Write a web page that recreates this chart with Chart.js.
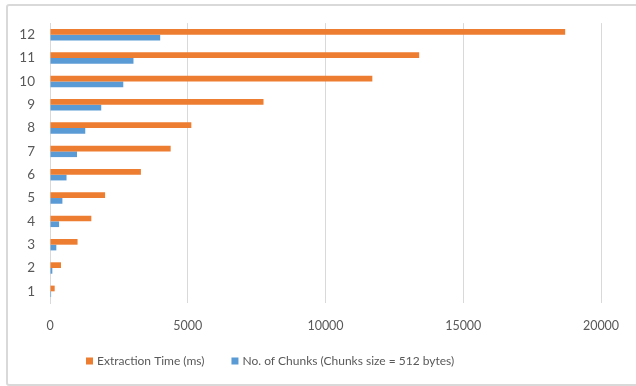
<!DOCTYPE html>
<html>
<head>
<meta charset="utf-8">
<script src="https://cdn.jsdelivr.net/npm/chart.js@4/dist/chart.umd.min.js"></script>
<style>
  html, body { margin: 0; padding: 0; background: #ffffff; overflow: hidden; }
  #wrap { position: relative; width: 636px; height: 386px; overflow: hidden; }
  #frame {
    position: absolute; left: 6px; top: 4px; width: 720px; height: 378px;
    border: 2px solid #d9d9d9; border-radius: 3px; box-sizing: content-box;
  }
  #c { position: absolute; left: 0; top: 0; }
</style>
</head>
<body>
<div id="wrap">
  <div id="frame"></div>
  <canvas id="c" width="636" height="386"></canvas>
</div>
<script>
// File sizes 1..12
const categories = ['1', '2', '3', '4', '5', '6', '7', '8', '9', '10', '11', '12'];
const extractionTime = [170, 400, 1000, 1500, 2000, 3300, 4380, 5130, 7750, 11700, 13400, 18700];
const chunkCount = [40, 85, 230, 330, 450, 600, 980, 1280, 1860, 2660, 3030, 4000];
const seriesNames = ['Extraction Time (ms)', 'No. of Chunks (Chunks size = 512 bytes)'];
const xTicks = [0, 5000, 10000, 15000, 20000];

const FONT = 'Lato, "Open Sans", sans-serif';
const TEXT = '#595959';
const GRID = '#d9d9d9';

// Legend drawn below the axis as a single row of square markers
const squareLegend = {
  id: 'squareLegend',
  afterDraw(chart, args, opts) {
    const ctx = chart.ctx;
    ctx.save();
    ctx.font = opts.fontSize + 'px ' + FONT;
    ctx.textBaseline = 'middle';
    ctx.textAlign = 'left';
    let x = opts.x;
    chart.data.datasets.forEach(ds => {
      ctx.fillStyle = ds.backgroundColor;
      ctx.fillRect(x, opts.y - opts.box / 2, opts.box, opts.box);
      x += opts.box + opts.textGap;
      ctx.fillStyle = TEXT;
      ctx.fillText(ds.label, x, opts.y);
      x += ctx.measureText(ds.label).width + opts.itemGap;
    });
    ctx.restore();
  }
};

new Chart(document.getElementById('c'), {
  type: 'bar',
  data: {
    labels: categories,
    datasets: [
      { label: seriesNames[0], data: extractionTime, backgroundColor: '#ED7D31' },
      { label: seriesNames[1], data: chunkCount, backgroundColor: '#5B9BD5' }
    ]
  },
  options: {
    indexAxis: 'y',
    responsive: false,
    animation: false,
    devicePixelRatio: 1,
    categoryPercentage: 0.49,
    barPercentage: 1,
    layout: { padding: { top: 23, right: 35, bottom: 43, left: 0 } },
    plugins: {
      legend: { display: false },
      tooltip: { enabled: false },
      squareLegend: { x: 86, y: 361, box: 7, textGap: 4, itemGap: 27, fontSize: 12 }
    },
    scales: {
      x: {
        min: 0, max: 20000,
        afterBuildTicks(scale) { scale.ticks = xTicks.map(v => ({ value: v })); },
        afterFit(scale) { scale.height = 40; },
        grid: { color: GRID, lineWidth: 1, drawTicks: false },
        border: { display: false },
        ticks: {
          color: TEXT, font: { family: FONT, size: 12.5 }, padding: 15,
          callback: v => String(v)
        }
      },
      y: {
        reverse: true,
        afterFit(scale) { scale.width = 50; },
        grid: { display: false, drawTicks: false },
        border: { display: true, color: GRID, width: 1 },
        ticks: { color: TEXT, font: { family: FONT, size: 13.5 }, padding: 15 }
      }
    }
  },
  plugins: [squareLegend]
});
</script>
</body>
</html>
